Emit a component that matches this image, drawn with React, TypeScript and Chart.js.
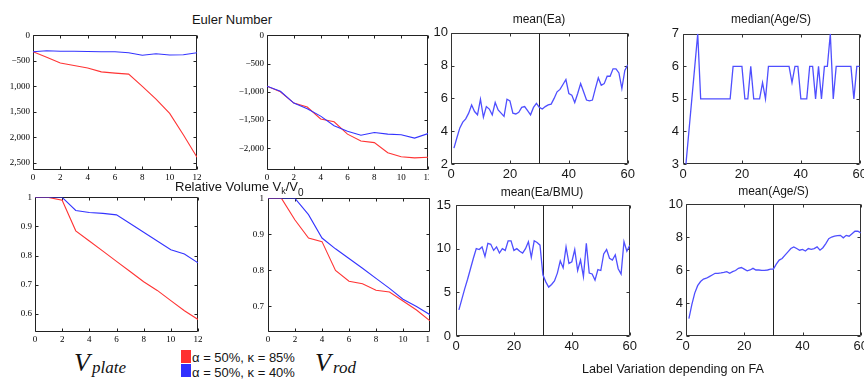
import React, { useEffect, useRef } from "react";
import { Chart, registerables } from "chart.js";
Chart.register(...registerables);

// ---------- data ----------
const stepsX = [0, 1, 2, 3, 4, 5, 6, 7, 8, 9, 10, 11, 12];
const eulerPlateRed = [-320, -430, -540, -590, -640, -715, -740, -760, -1000, -1250, -1530, -1950, -2390];
const eulerPlateBlue = [-320, -300, -310, -310, -315, -320, -320, -340, -390, -360, -385, -380, -340];
const eulerRodRed = [-900, -1000, -1200, -1270, -1480, -1530, -1750, -1870, -1900, -2080, -2150, -2170, -2160];
const eulerRodBlue = [-900, -990, -1200, -1300, -1430, -1600, -1700, -1770, -1720, -1750, -1760, -1820, -1740];
const volPlateRed = [1, 1, 0.99, 0.885, 0.85, 0.815, 0.78, 0.745, 0.71, 0.68, 0.645, 0.61, 0.58];
const volPlateBlue = [1, 1, 1, 0.955, 0.948, 0.945, 0.94, 0.91, 0.88, 0.85, 0.82, 0.805, 0.775];
const volRodRed = [1, 1, 0.94, 0.89, 0.88, 0.8, 0.77, 0.763, 0.745, 0.74, 0.715, 0.69, 0.66];
const volRodBlue = [1, 1, 1, 0.955, 0.89, 0.86, 0.833, 0.806, 0.778, 0.75, 0.72, 0.7, 0.677];

const runs = [1, 2, 3, 4, 5, 6, 7, 8, 9, 10, 11, 12, 13, 14, 15, 16, 17, 18, 19, 20,
  21, 22, 23, 24, 25, 26, 27, 28, 29, 30, 31, 32, 33, 34, 35, 36, 37, 38, 39, 40,
  41, 42, 43, 44, 45, 46, 47, 48, 49, 50, 51, 52, 53, 54, 55, 56, 57, 58, 59, 60];
const meanEa = [2.97, 3.6, 4.2, 4.55, 4.75, 5.1, 5.6, 5.2, 5.0, 5.95, 4.85, 5.5, 5.35, 5.0, 5.75, 5.3, 5.1, 4.9, 5.95, 5.85,
  5.1, 5.05, 5.15, 5.45, 5.5, 5.25, 5.0, 5.45, 5.7, 5.45, 5.35, 5.5, 5.6, 5.65, 6.0, 6.4, 6.55, 6.85, 7.15, 6.3,
  6.2, 5.75, 6.3, 6.9, 6.4, 5.9, 5.85, 5.9, 6.6, 7.25, 6.8, 6.9, 7.35, 7.35, 7.8, 7.8, 7.55, 6.6, 7.7, 8.05];
const medianAgeS = [3, 4, 5, 6, 7, 5, 5, 5, 5, 5, 5, 5, 5, 5, 5, 5, 6, 6, 6, 6,
  5, 5, 6, 5, 5, 5, 5.5, 5, 6, 6, 6, 6, 6, 6, 6, 6, 5.5, 6, 6, 5,
  5, 5, 6, 6, 5, 6, 5, 6, 6, 7, 5, 6, 6, 6, 6, 6, 6, 5, 6, 6];
const meanEaBMU = [3.0, 4.2, 5.4, 6.5, 7.7, 8.9, 10.0, 9.9, 10.2, 9.1, 10.6, 10.5, 9.8, 10.2, 9.5, 10.0, 9.8, 10.9, 10.9, 9.8,
  10.0, 9.7, 9.5, 10.0, 10.8, 9.0, 10.9, 10.7, 10.4, 7.0, 6.2, 5.6, 5.9, 6.3, 7.2, 8.6, 7.8, 10.2, 8.3, 8.5,
  9.9, 7.5, 8.7, 6.8, 10.6, 7.2, 7.1, 6.4, 7.6, 7.5, 9.4, 9.9, 8.9, 8.7, 9.3, 7.7, 7.1, 10.8, 9.7, 10.4];
const meanAgeS = [3.05, 3.9, 4.6, 5.05, 5.3, 5.45, 5.5, 5.6, 5.7, 5.8, 5.8, 5.82, 5.85, 5.9, 5.8, 5.9, 5.97, 6.1, 6.15, 6.05,
  5.95, 6.0, 6.1, 6.0, 6.0, 5.98, 5.98, 6.0, 6.05, 6.05, 6.35, 6.6, 6.7, 6.9, 7.1, 7.3, 7.4, 7.3, 7.2, 7.25,
  7.15, 7.3, 7.25, 7.3, 7.4, 7.2, 7.35, 7.6, 7.9, 8.0, 8.05, 8.08, 8.1, 7.95, 8.1, 8.05, 8.2, 8.35, 8.35, 8.25];

// ---------- tick values & labels ----------
const stepTicks = [0, 2, 4, 6, 8, 10, 12];
const stepTickLabels = ["0", "2", "4", "6", "8", "10", "12"];
const eulerPlateTicks = [0, -500, -1000, -1500, -2000, -2500];
const eulerPlateTickLabels = ["0", "\u2212500", "1,000", "1,500", "2,000", "2,500"];
const eulerRodTicks = [0, -500, -1000, -1500, -2000];
const eulerRodTickLabels = ["0", "\u2212500", "\u22121,000", "\u22121,500", "\u22122,000"];
const volPlateTicks = [1, 0.9, 0.8, 0.7, 0.6];
const volPlateTickLabels = ["1", "0.9", "0.8", "0.7", "0.6"];
const volRodTicks = [1, 0.9, 0.8, 0.7];
const volRodTickLabels = ["1", "0.9", "0.8", "0.7"];
const runTicks = [0, 20, 40, 60];
const runTickLabels = ["0", "20", "40", "60"];
const eaTicks = [2, 4, 6, 8, 10];
const eaTickLabels = ["2", "4", "6", "8", "10"];
const medianTicks = [3, 4, 5, 6, 7];
const medianTickLabels = ["3", "4", "5", "6", "7"];
const bmuTicks = [0, 5, 10, 15];
const bmuTickLabels = ["0", "5", "10", "15"];
const ageTicks = [2, 4, 6, 8, 10];
const ageTickLabels = ["2", "4", "6", "8", "10"];

const RED = "#ff3434";
const BLUE = "#3434ff";
const RBLUE = "#4f4fff";

// ---------- plugins ----------
const framePlugin = {
  id: "frame",
  beforeDatasetsDraw(chart: any, _args: any, opts: any) {
    const { ctx, chartArea: a, scales } = chart;
    const L = Math.round(a.left) + 0.5;
    const T = Math.round(a.top) + 0.5;
    const R = Math.round(a.right) - 0.5;
    const B = Math.round(a.bottom) - 0.5;
    ctx.save();
    ctx.strokeStyle = opts.color;
    ctx.lineWidth = 1;
    ctx.beginPath();
    ctx.rect(L, T, R - L, B - T);
    const len = opts.tickLen;
    for (const t of scales.x.ticks) {
      const px = Math.round(scales.x.getPixelForValue(t.value)) + 0.5;
      ctx.moveTo(px, B);
      ctx.lineTo(px, B - len);
      ctx.moveTo(px, T);
      ctx.lineTo(px, T + len);
    }
    for (const t of scales.y.ticks) {
      const py = Math.round(scales.y.getPixelForValue(t.value)) + 0.5;
      ctx.moveTo(L, py);
      ctx.lineTo(L + len, py);
      ctx.moveTo(R, py);
      ctx.lineTo(R - len, py);
    }
    ctx.stroke();
    if (opts.vline !== undefined && opts.vline !== null) {
      const px = Math.round(scales.x.getPixelForValue(opts.vline)) + 0.5;
      ctx.beginPath();
      ctx.strokeStyle = "#222";
      ctx.moveTo(px, T);
      ctx.lineTo(px, B);
      ctx.stroke();
    }
    ctx.restore();
  },
};

const bgPlugin = {
  id: "whitebg",
  beforeDraw(chart: any, _args: any, opts: any) {
    if (!opts.fill) return;
    const { ctx, width, height } = chart;
    ctx.save();
    ctx.fillStyle = "#ffffff";
    ctx.fillRect(0, 0, width, height);
    ctx.restore();
  },
};

type Series = { data: number[]; color: string; width: number };
type Spec = {
  rect: [number, number, number, number];
  axisW: number;
  axisH: number;
  padT: number;
  padR: number;
  xs: number[];
  series: Series[];
  xMin: number;
  xMax: number;
  xTicks: number[];
  xLabels: string[];
  yMin: number;
  yMax: number;
  yTicks: number[];
  yLabels: string[];
  fontFamily: string;
  fontSize: number;
  tickColor: string;
  padX: number;
  padY: number;
  tickLen: number;
  frameColor: string;
  vline?: number;
  bg?: boolean;
};

function Panel({ spec }: { spec: Spec }) {
  const ref = useRef<HTMLCanvasElement>(null);
  const [l, t, r, b] = spec.rect;
  const left = l - spec.axisW;
  const top = t - spec.padT;
  const width = r - l + spec.axisW + spec.padR;
  const height = b - t + spec.padT + spec.axisH;
  useEffect(() => {
    const font = { family: spec.fontFamily, size: spec.fontSize };
    const chart = new Chart(ref.current as HTMLCanvasElement, {
      type: "line",
      data: {
        datasets: spec.series.map((s) => ({
          data: spec.xs.map((x, i) => ({ x, y: s.data[i] })),
          borderColor: s.color,
          borderWidth: s.width,
          pointRadius: 0,
          tension: 0,
          fill: false,
        })),
      },
      options: {
        responsive: false,
        animation: false,
        devicePixelRatio: 1,
        layout: { padding: { left: 0, top: spec.padT, right: spec.padR, bottom: 0 } },
        plugins: {
          legend: { display: false },
          tooltip: { enabled: false },
          title: { display: false },
          frame: { color: spec.frameColor, tickLen: spec.tickLen, vline: spec.vline },
          whitebg: { fill: !!spec.bg },
        } as any,
        scales: {
          x: {
            type: "linear",
            min: spec.xMin,
            max: spec.xMax,
            grid: { display: false, drawTicks: false },
            border: { display: false },
            ticks: {
              font,
              color: spec.tickColor,
              padding: spec.padX,
              maxRotation: 0,
              autoSkip: false,
              callback: (_v: any, i: number) => spec.xLabels[i],
            },
            afterBuildTicks: (s: any) => {
              s.ticks = spec.xTicks.map((v) => ({ value: v }));
            },
            afterFit: (s: any) => {
              s.height = spec.axisH;
            },
          },
          y: {
            type: "linear",
            min: spec.yMin,
            max: spec.yMax,
            grid: { display: false, drawTicks: false },
            border: { display: false },
            ticks: {
              font,
              color: spec.tickColor,
              padding: spec.padY,
              autoSkip: false,
              callback: (_v: any, i: number) => spec.yLabels[i],
            },
            afterBuildTicks: (s: any) => {
              s.ticks = spec.yTicks.map((v) => ({ value: v }));
            },
            afterFit: (s: any) => {
              s.width = spec.axisW;
            },
          },
        } as any,
      },
      plugins: [bgPlugin, framePlugin],
    } as any);
    return () => chart.destroy();
  }, []);
  return (
    <canvas
      ref={ref}
      width={width}
      height={height}
      style={{ position: "absolute", left, top, width, height, display: "block" }}
    />
  );
}

const SERIF = '"Liberation Serif", "Times New Roman", serif';
const SANS = '"Liberation Sans", Arial, Helvetica, sans-serif';

const leftCommon = {
  axisH: 16,
  padT: 8,
  padR: 8,
  xs: stepsX,
  xMin: 0,
  xMax: 12,
  xTicks: stepTicks,
  xLabels: stepTickLabels,
  fontFamily: SERIF,
  fontSize: 9,
  tickColor: "#000",
  padX: 2,
  padY: 3,
  tickLen: 3,
  frameColor: "#222",
};

const rightCommon = {
  axisH: 20,
  padR: 10,
  xs: runs,
  xMin: 0,
  xMax: 60,
  xTicks: runTicks,
  xLabels: runTickLabels,
  fontFamily: SANS,
  fontSize: 13,
  tickColor: "#1a1a1a",
  padX: 3,
  padY: 3,
  tickLen: 3,
  frameColor: "#333",
  bg: true,
};

const panels: Spec[] = [
  {
    ...leftCommon,
    rect: [33, 35, 197, 170],
    axisW: 33,
    series: [
      { data: eulerPlateBlue, color: BLUE, width: 1.1 },
      { data: eulerPlateRed, color: RED, width: 1.1 },
    ],
    yMin: -2640,
    yMax: 0,
    yTicks: eulerPlateTicks,
    yLabels: eulerPlateTickLabels,
  },
  {
    ...leftCommon,
    rect: [267, 35, 428, 170],
    axisW: 45,
    series: [
      { data: eulerRodBlue, color: BLUE, width: 1.1 },
      { data: eulerRodRed, color: RED, width: 1.1 },
    ],
    yMin: -2385,
    yMax: 0,
    yTicks: eulerRodTicks,
    yLabels: eulerRodTickLabels,
  },
  {
    ...leftCommon,
    rect: [35, 197, 198, 332],
    axisW: 35,
    series: [
      { data: volPlateBlue, color: BLUE, width: 1.1 },
      { data: volPlateRed, color: RED, width: 1.1 },
    ],
    yMin: 0.537,
    yMax: 1,
    yTicks: volPlateTicks,
    yLabels: volPlateTickLabels,
  },
  {
    ...leftCommon,
    rect: [268, 197, 430, 332],
    axisW: 40,
    padY: 4,
    series: [
      { data: volRodBlue, color: BLUE, width: 1.1 },
      { data: volRodRed, color: RED, width: 1.1 },
    ],
    yMin: 0.629,
    yMax: 1,
    yTicks: volRodTicks,
    yLabels: volRodTickLabels,
  },
  {
    ...rightCommon,
    rect: [451, 32, 628, 164],
    axisW: 22,
    padT: 10,
    series: [{ data: meanEa, color: RBLUE, width: 1.3 }],
    yMin: 2,
    yMax: 10,
    yTicks: eaTicks,
    yLabels: eaTickLabels,
    vline: 30,
  },
  {
    ...rightCommon,
    rect: [683, 32, 860, 164],
    axisW: 30,
    padT: 10,
    padY: 4,
    series: [{ data: medianAgeS, color: RBLUE, width: 1.3 }],
    yMin: 3,
    yMax: 7,
    yTicks: medianTicks,
    yLabels: medianTickLabels,
  },
  {
    ...rightCommon,
    rect: [456, 205, 630, 336],
    axisW: 26,
    padT: 25,
    padY: 5,
    series: [{ data: meanEaBMU, color: RBLUE, width: 1.3 }],
    yMin: 0,
    yMax: 15,
    yTicks: bmuTicks,
    yLabels: bmuTickLabels,
    vline: 30,
  },
  {
    ...rightCommon,
    rect: [686, 204, 861, 336],
    axisW: 30,
    padT: 24,
    series: [{ data: meanAgeS, color: RBLUE, width: 1.3 }],
    yMin: 2,
    yMax: 10,
    yTicks: ageTicks,
    yLabels: ageTickLabels,
    vline: 30,
  },
];

function Centered({ x, y, size, children, family }: any) {
  return (
    <div
      style={{
        position: "absolute",
        left: x,
        top: y,
        transform: "translate(-50%, -50%)",
        fontSize: size,
        lineHeight: 1,
        whiteSpace: "nowrap",
        fontFamily: family || SANS,
        color: "#151515",
      }}
    >
      {children}
    </div>
  );
}

function LeftText({ x, y, size, children, family }: any) {
  return (
    <div
      style={{
        position: "absolute",
        left: x,
        top: y,
        transform: "translateY(-50%)",
        fontSize: size,
        lineHeight: 1,
        whiteSpace: "nowrap",
        fontFamily: family || SANS,
        color: "#151515",
      }}
    >
      {children}
    </div>
  );
}

function MathV({ x, sub, subX }: { x: number; sub: string; subX: number }) {
  return (
    <>
      <span
        style={{
          position: "absolute",
          left: x,
          top: 350,
          fontFamily: SERIF,
          fontStyle: "italic",
          fontSize: 26,
          lineHeight: 1,
          color: "#111",
          whiteSpace: "nowrap",
        }}
      >
        V
      </span>
      <span
        style={{
          position: "absolute",
          left: subX,
          top: 359,
          fontFamily: SERIF,
          fontStyle: "italic",
          fontSize: 17,
          lineHeight: 1,
          color: "#111",
          whiteSpace: "nowrap",
        }}
      >
        {sub}
      </span>
    </>
  );
}

export default function App() {
  return (
    <div
      style={{
        position: "fixed",
        left: 0,
        top: 0,
        width: 864,
        height: 379,
        overflow: "hidden",
        background: "#ffffff",
        fontFamily: SANS,
      }}
    >
      {panels.map((p, i) => (
        <Panel key={i} spec={p} />
      ))}

      <Centered x={232} y={19} size={13}>Euler Number</Centered>
      <LeftText x={175} y={185.5} size={13}>
        Relative Volume V
        <span style={{ fontSize: 9, position: "relative", top: 3 }}>k</span>
        /V
        <span style={{ fontSize: 10, position: "relative", top: 5 }}>0</span>
      </LeftText>

      <Centered x={539} y={18.5} size={12}>mean(Ea)</Centered>
      <Centered x={771} y={18.5} size={12}>median(Age/S)</Centered>
      <Centered x={542} y={191.5} size={12}>mean(Ea/BMU)</Centered>
      <Centered x={773.5} y={191} size={12}>mean(Age/S)</Centered>

      <MathV x={74} sub="plate" subX={92} />
      <MathV x={315} sub="rod" subX={333} />

      <div style={{ position: "absolute", left: 181, top: 350, width: 10, height: 13, background: "#ff3030" }} />
      <div style={{ position: "absolute", left: 181, top: 364, width: 10, height: 13, background: "#3030ff" }} />
      <LeftText x={192} y={357} size={13}>α = 50%, κ = 85%</LeftText>
      <LeftText x={192} y={372} size={13}>α = 50%, κ = 40%</LeftText>

      <Centered x={673} y={368.5} size={12.6}>Label Variation depending on FA</Centered>
    </div>
  );
}
